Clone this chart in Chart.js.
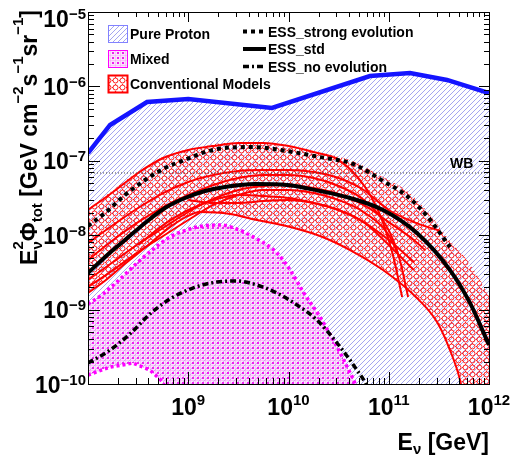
<!DOCTYPE html>
<html>
<head>
<meta charset="utf-8">
<script src="https://cdn.jsdelivr.net/npm/chart.js@4.4.1/dist/chart.umd.min.js"></script>
<style>
  html, body { margin: 0; padding: 0; background: #fff; }
</style>
</head>
<body>
<canvas id="chart" width="511" height="462"></canvas>
<script>
// energies in GeV, E^2 flux in GeV cm^-2 s^-1 sr^-1
const protonE = [1e8, 1.66e8, 3.88e8, 1e9, 6.84e9, 6.5e10, 1.63e11, 3.81e11, 1e12];
const protonFlux = [1.27e-7, 3.03e-7, 6.17e-7, 6.78e-7, 5.13e-7, 1.38e-6, 1.51e-6, 1.22e-6, 8.15e-7];

// lower edge shared by the proton and mixed regions (dips out of the frame)
const floorE = [1e8, 1.66e8, 2.81e8, 4.15e8, 5.6e8, 6.6e8, 1e12];
const floorFlux = [1.32e-10, 1.69e-10, 1.91e-10, 1.54e-10, 1.06e-10, 5e-11, 1e-11];

const mixedE = [1e8, 1.32e8, 2.04e8, 3.01e8, 4.35e8, 6.58e8, 9.51e8, 1.4e9, 2.07e9, 3.06e9, 4.85e9, 7.68e9, 1.04e10, 1.4e10, 2.06e10, 3.05e10, 4.11e10, 4.61e10, 5.1e10];
const mixedFlux = [1.19e-9, 1.52e-9, 2.5e-9, 4.1e-9, 6.32e-9, 9.46e-9, 1.17e-8, 1.33e-8, 1.37e-8, 1.21e-8, 8.89e-9, 5.77e-9, 3.4e-9, 1.73e-9, 7.96e-10, 3.14e-10, 1.41e-10, 1e-10, 5e-11];

const bandLowE = [1e8, 1.51e8, 2.39e8, 3.79e8, 6e8, 9.51e8, 1.31e9, 2.61e9, 4.85e9, 1.04e10, 2.06e10, 4.11e10, 8.77e10, 1.91e11, 3.03e11, 4.08e11, 5.14e11, 5.51e11, 1e12];
const bandLowFlux = [1.67e-9, 2.5e-9, 4.23e-9, 6.93e-9, 1.17e-8, 1.76e-8, 2.05e-8, 1.93e-8, 1.6e-8, 1.29e-8, 9.75e-9, 6.32e-9, 3.4e-9, 1.43e-9, 6.81e-10, 2.86e-10, 1.13e-10, 7e-11, 1e-11];
const bandUpE = [1e8, 1.48e8, 2.34e8, 3.71e8, 5.86e8, 9.29e8, 1.47e9, 2.33e9, 4.43e9, 9.66e9, 2.06e10, 4.4e10, 8.77e10, 1.52e11, 2.41e11, 4.08e11, 6.04e11, 8.13e11, 1e12];
const bandUpFlux = [2.25e-8, 3.36e-8, 5.35e-8, 8.25e-8, 1.16e-7, 1.4e-7, 1.58e-7, 1.73e-7, 1.73e-7, 1.53e-7, 1.27e-7, 9.94e-8, 6.05e-8, 3.93e-8, 2.11e-8, 8.35e-9, 4.64e-9, 2.5e-9, 1.52e-9];

// individual conventional models
const gridE = [1e8, 1.78e8, 3.16e8, 5.62e8, 1e9, 1.78e9, 3.16e9, 5.62e9, 1e10, 1.78e10, 3.16e10, 5.62e10, 1e11, 1.78e11];
const model1E = [1e8, 1.78e8, 3.16e8, 5.62e8, 1e9, 1.78e9, 3.16e9, 5.62e9, 1e10, 1.78e10, 3.16e10, 5.62e10, 8.18e10, 1.1e11, 1.36e11];
const model1Flux = [2.18e-8, 3.81e-8, 6.86e-8, 1.09e-7, 1.4e-7, 1.58e-7, 1.74e-7, 1.74e-7, 1.58e-7, 1.31e-7, 1.03e-7, 4.73e-8, 1.87e-8, 5.41e-9, 1.48e-9];
const model2E = gridE.concat([3.24e11]);
const model2Flux = [7.85e-9, 1.37e-8, 2.32e-8, 3.69e-8, 5.19e-8, 6.44e-8, 7.29e-8, 7.52e-8, 7.52e-8, 7.07e-8, 5.87e-8, 4.05e-8, 2.18e-8, 1.5e-8, 1.14e-8];
const model3E = gridE.slice(0, 13).concat([1.29e11, 1.56e11]);
const model3Flux = [4.64e-9, 8.61e-9, 1.5e-8, 2.39e-8, 3.47e-8, 4.73e-8, 5.87e-8, 6.44e-8, 6.44e-8, 5.87e-8, 4.58e-8, 2.97e-8, 1.17e-8, 4.64e-9, 1.48e-9];
const model4E = gridE.concat([2.3e11]);
const model4Flux = [2.5e-9, 4.36e-9, 7.61e-9, 1.25e-8, 2.05e-8, 3.07e-8, 4.05e-8, 4.58e-8, 4.73e-8, 4.31e-8, 3.58e-8, 2.55e-8, 1.5e-8, 8.61e-9, 6.32e-9];
const model5E = gridE.slice(0, 13).concat([1.29e11]);
const model5Flux = [2.01e-9, 3.4e-9, 5.94e-9, 9.75e-9, 1.6e-8, 2.55e-8, 3.47e-8, 4.05e-8, 4.05e-8, 3.69e-8, 2.97e-8, 2.05e-8, 1.005e-8, 4.93e-9];
const model6E = gridE.slice(4);
const model6Flux = [2.97e-8, 2.71e-8, 2.71e-8, 2.88e-8, 2.97e-8, 2.71e-8, 2.18e-8, 1.5e-8, 7.38e-9, 3.4e-9];
const model7E = gridE.slice(2);
const model7Flux = [7.38e-9, 1.37e-8, 2.18e-8, 2.97e-8, 3.47e-8, 3.36e-8, 3.16e-8, 2.71e-8, 2.18e-8, 1.5e-8, 8.61e-9, 4.36e-9];

const strongE = [1e8, 1.48e8, 2.34e8, 3.71e8, 5.86e8, 9.29e8, 1.47e9, 2.33e9, 4.43e9, 9.66e9, 2.06e10, 4.4e10, 8.77e10, 1.52e11, 2.41e11, 4.08e11];
const strongFlux = [1.33e-8, 1.99e-8, 3.47e-8, 5.52e-8, 8e-8, 1.03e-7, 1.31e-7, 1.49e-7, 1.53e-7, 1.35e-7, 1.12e-7, 9.06e-8, 5.35e-8, 3.36e-8, 1.81e-8, 6.93e-9];
const stdE = [1e8, 1.48e8, 2.34e8, 3.71e8, 5.86e8, 9.29e8, 1.47e9, 2.33e9, 4.64e9, 9.66e9, 2.06e10, 4.11e10, 8.77e10, 1.91e11, 4.08e11, 6.46e11, 1e12];
const stdFlux = [3.1e-9, 5.09e-9, 8.61e-9, 1.46e-8, 2.32e-8, 3.16e-8, 3.93e-8, 4.44e-8, 4.88e-8, 4.73e-8, 3.93e-8, 3.16e-8, 2.18e-8, 1.07e-8, 3.4e-9, 1.23e-9, 3.34e-10];
const noEvoE = [1e8, 1.66e8, 2.62e8, 4.15e8, 6.58e8, 1.11e9, 1.94e9, 3.06e9, 4.85e9, 7.68e9, 1.22e10, 1.92e10, 3.05e10, 4.82e10, 5.93e10, 7e10];
const noEvoFlux = [1.91e-10, 2.86e-10, 4.7e-10, 8.73e-10, 1.39e-9, 1.95e-9, 2.35e-9, 2.42e-9, 2.14e-9, 1.67e-9, 1.15e-9, 7.25e-10, 3.56e-10, 1.54e-10, 1e-10, 6e-11];

const wbE = [1e8, 1e12];
const wbFlux = [6.86e-8, 6.86e-8];

const xTickExps = [9, 10, 11, 12];
const yTickExps = [-10, -9, -8, -7, -6, -5];
const areaLabels = ['Pure Proton', 'Mixed', 'Conventional Models'];
const lineLabels = ['ESS_strong evolution', 'ESS_std', 'ESS_no evolution'];

const canvas = document.getElementById('chart');
const ctx0 = canvas.getContext('2d');

function tile(w, h, paint) {
  const c = document.createElement('canvas');
  c.width = w; c.height = h;
  paint(c.getContext('2d'));
  return ctx0.createPattern(c, 'repeat');
}

const hatchBlue = tile(5, 5, g => {
  g.fillStyle = 'rgb(165,165,240)';
  for (let i = 0; i < 5; i++) g.fillRect(i, 4 - i, 1, 1);
});
const dotsMagenta = tile(5, 5, g => {
  g.fillStyle = 'rgba(245,160,245,0.6)';
  g.fillRect(0, 0, 5, 1);
  g.fillRect(0, 0, 1, 5);
  g.fillStyle = 'rgba(250,200,250,0.5)';
  g.fillRect(1, 1, 4, 4);
  g.fillStyle = '#f020f0';
  g.fillRect(2, 2, 2, 2);
});
const ringsRed = tile(7, 7, g => {
  g.strokeStyle = '#ff1a1a';
  g.lineWidth = 1;
  g.beginPath();
  g.arc(3.5, 3.5, 2.5, 0, Math.PI * 2);
  g.stroke();
  g.fillStyle = '#ff1a1a';
  g.fillRect(3, 0, 1, 1);
  g.fillRect(0, 3, 1, 1);
});

function pts(es, fs) {
  return es.map((e, i) => ({ x: e, y: fs[i] }));
}

function curve(es, fs, extra) {
  return Object.assign({
    data: pts(es, fs),
    pointRadius: 0,
    borderWidth: 2,
    borderColor: '#ff0000',
    fill: false,
    clip: 0,
    cubicInterpolationMode: 'monotone',
    order: 3
  }, extra);
}

const font = s => 'bold ' + s + 'px "Liberation Sans", Arial, Helvetica, sans-serif';

function drawRuns(ctx, parts, x, y, align) {
  let total = 0;
  const ws = parts.map(p => {
    ctx.font = font(p.s);
    const w = ctx.measureText(p.t).width;
    if (!p.keep) total += w;
    return w;
  });
  let cx = align === 'right' ? x - total : align === 'center' ? x - total / 2 : x;
  ctx.textAlign = 'left';
  ctx.textBaseline = 'alphabetic';
  parts.forEach((p, i) => {
    ctx.font = font(p.s);
    ctx.fillText(p.t, cx, y + (p.dy || 0));
    if (!p.keep) cx += ws[i];
  });
}

function seg(ctx, x1, y1, x2, y2) {
  ctx.beginPath();
  ctx.moveTo(x1, y1);
  ctx.lineTo(x2, y2);
  ctx.stroke();
}

const rootFrame = {
  id: 'rootFrame',
  afterDraw(chart) {
    const ctx = chart.ctx;
    const xs = chart.scales.x, ys = chart.scales.y;
    const { left, right, top, bottom } = chart.chartArea;
    ctx.save();
    ctx.strokeStyle = '#000';
    ctx.fillStyle = '#000';
    ctx.lineWidth = 1;
    ctx.strokeRect(left + 0.5, top + 0.5, right - left, bottom - top);

    // log ticks on all four sides, pointing inwards
    for (let d = 8; d < 12; d++) {
      for (let m = 1; m <= 9; m++) {
        const px = Math.round(xs.getPixelForValue(m * Math.pow(10, d))) + 0.5;
        const major = m === 1;
        seg(ctx, px, bottom, px, bottom - (major ? 12 : 6));
        seg(ctx, px, top, px, top + (major ? 10 : 5));
      }
    }
    for (let d = -10; d < -5; d++) {
      for (let m = 1; m <= 9; m++) {
        const py = Math.round(ys.getPixelForValue(m * Math.pow(10, d))) + 0.5;
        const major = m === 1;
        seg(ctx, left, py, left + (major ? 12 : 6), py);
        seg(ctx, right, py, right - (major ? 10 : 5), py);
      }
    }

    yTickExps.forEach(e => {
      const py = ys.getPixelForValue(Math.pow(10, e));
      const base = e === -5 ? py + 15 : py + 8.5;
      drawRuns(ctx, [{ t: '10', s: 23 }, { t: '\u2212' + (-e), s: 15, dy: -8 }], 86, base, 'right');
    });
    xTickExps.forEach(e => {
      const px = xs.getPixelForValue(Math.pow(10, e));
      drawRuns(ctx, [{ t: '10', s: 23 }, { t: String(e), s: 15, dy: -10 }], px, 415, 'center');
    });

    // axis titles
    drawRuns(ctx, [{ t: 'E', s: 23 }, { t: '\u03bd', s: 15, dy: 4 }, { t: ' [GeV]', s: 23 }], right, 450, 'right');
    ctx.save();
    ctx.translate(37, 10);
    ctx.rotate(-Math.PI / 2);
    drawRuns(ctx, [
      { t: 'E', s: 23 }, { t: '\u03bd', s: 15, dy: 5, keep: true }, { t: '2', s: 15, dy: -14 },
      { t: '\u03a6', s: 23 }, { t: 'tot', s: 15, dy: 5 },
      { t: ' [GeV cm', s: 23 }, { t: '\u22122', s: 15, dy: -14 },
      { t: 's', s: 23 }, { t: '\u22121', s: 15, dy: -14 },
      { t: 'sr', s: 23 }, { t: '\u22121', s: 15, dy: -14 }, { t: ']', s: 23 }
    ], 0, 0, 'right');
    ctx.restore();

    // WB label
    drawRuns(ctx, [{ t: 'WB', s: 14 }], 450, 168, 'left');

    // legend, left column: filled areas
    const boxes = [
      { fill: hatchBlue, stroke: 'rgb(130,130,255)', lw: 1, y: 25 },
      { fill: dotsMagenta, stroke: '#ff00ff', lw: 1, y: 50 },
      { fill: ringsRed, stroke: '#ff0000', lw: 2, y: 75 }
    ];
    boxes.forEach((b, i) => {
      ctx.fillStyle = b.fill;
      ctx.fillRect(108, b.y, 19, 17);
      ctx.strokeStyle = b.stroke;
      ctx.lineWidth = b.lw;
      ctx.strokeRect(108.5, b.y + 0.5, 19, 17);
      ctx.fillStyle = '#000';
      drawRuns(ctx, [{ t: areaLabels[i], s: 14 }], 130, b.y + 14, 'left');
    });

    // legend, right column: lines
    const styles = [
      { dash: [4, 4], w: 4, y: 31.5 },
      { dash: [], w: 4, y: 49 },
      { dash: [6, 3, 2, 3], w: 3.5, y: 66.5 }
    ];
    styles.forEach((s, i) => {
      ctx.strokeStyle = '#000';
      ctx.lineWidth = s.w;
      ctx.setLineDash(s.dash);
      seg(ctx, 243, s.y, 266, s.y);
      ctx.setLineDash([]);
      ctx.fillStyle = '#000';
      drawRuns(ctx, [{ t: lineLabels[i], s: 14 }], 268, s.y + 5, 'left');
    });
    ctx.restore();
  }
};

new Chart(canvas, {
  type: 'line',
  data: {
    datasets: [
      curve(floorE, floorFlux, { borderColor: '#ff00ff', borderWidth: 3.5, borderDash: [3, 3], tension: 0, cubicInterpolationMode: 'default', order: 5 }),
      curve(protonE, protonFlux, { borderColor: '#1414ff', borderWidth: 4.5, tension: 0, cubicInterpolationMode: 'default', fill: 0, backgroundColor: hatchBlue, order: 10 }),
      curve(mixedE, mixedFlux, { borderColor: '#ff00ff', borderWidth: 3.5, borderDash: [3, 3], fill: 0, backgroundColor: dotsMagenta, order: 9 }),
      curve(bandLowE, bandLowFlux, { order: 4 }),
      curve(bandUpE, bandUpFlux, { borderWidth: 0, borderColor: 'transparent', fill: 3, backgroundColor: ringsRed, order: 8 }),
      curve(model1E, model1Flux),
      curve(model2E, model2Flux),
      curve(model3E, model3Flux),
      curve(model4E, model4Flux),
      curve(model5E, model5Flux),
      curve(model6E, model6Flux),
      curve(model7E, model7Flux),
      curve(wbE, wbFlux, { borderColor: '#444', borderWidth: 1, borderDash: [1, 2], tension: 0, cubicInterpolationMode: 'default', order: 2 }),
      curve(strongE, strongFlux, { borderColor: '#000', borderWidth: 4, borderDash: [4, 4], order: 1 }),
      curve(stdE, stdFlux, { borderColor: '#000', borderWidth: 4, order: 1 }),
      curve(noEvoE, noEvoFlux, { borderColor: '#000', borderWidth: 3.5, borderDash: [6, 3, 2, 3], order: 1 })
    ]
  },
  options: {
    responsive: false,
    animation: false,
    layout: { padding: { left: 88, right: 22, top: 12, bottom: 78 } },
    scales: {
      x: { type: 'logarithmic', min: 1e8, max: 1e12, display: false },
      y: { type: 'logarithmic', min: 1e-10, max: 1e-5, display: false }
    },
    plugins: {
      legend: { display: false },
      tooltip: { enabled: false }
    }
  },
  plugins: [rootFrame]
});
</script>
</body>
</html>
